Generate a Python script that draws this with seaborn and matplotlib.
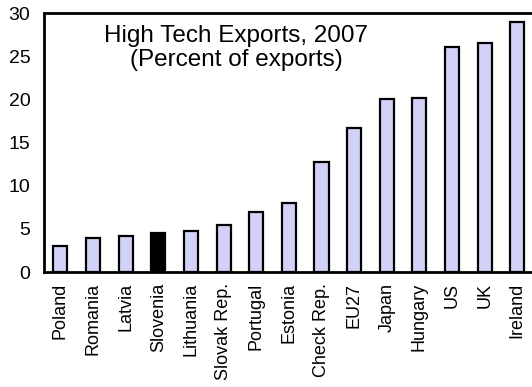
import numpy as np
import pandas as pd
import seaborn as sns
import matplotlib.pyplot as plt

countries = ["Poland", "Romania", "Latvia", "Slovenia", "Lithuania", "Slovak Rep.",
             "Portugal", "Estonia", "Check Rep.", "EU27", "Japan", "Hungary",
             "US", "UK", "Ireland"]
share = [3.0, 3.9, 4.2, 4.5, 4.7, 5.4, 7.0, 8.0, 12.7, 16.7, 20.0, 20.2, 26.1, 26.6, 29.0]
highlight = "Slovenia"

sns.set_style("white")
plt.rcParams['font.family'] = ['Liberation Sans', 'DejaVu Sans']
plt.rcParams['text.color'] = 'black'
plt.rcParams['xtick.color'] = 'black'
plt.rcParams['ytick.color'] = 'black'

df = pd.DataFrame({"country": countries, "share": share})
colors = ["black" if c == highlight else "#ccccff" for c in countries]

fig = plt.figure(figsize=(5.32, 3.87), dpi=100)
ax = fig.add_axes([0.083, 0.297, 0.92, 0.669])

sns.barplot(data=df, x="country", y="share", hue="country", palette=colors,
            width=0.43, edgecolor="black", linewidth=1.6, legend=False, ax=ax)

ax.set_xlim(-0.5, 14.5)
ax.set_ylim(0, 30)
ax.set_yticks(range(0, 31, 5))
ax.set_xlabel("")
ax.set_ylabel("")
ax.tick_params(axis="y", direction="in", length=4, width=1.5, labelsize=14, pad=10)
ax.tick_params(axis="x", which="major", length=0, labelsize=13, rotation=90, pad=8)
ax.set_xticks(np.arange(0.5, 14, 1), minor=True)
ax.tick_params(axis="x", which="minor", direction="in", length=4, width=1.5)

for side in ["left", "bottom", "top"]:
    ax.spines[side].set_linewidth(2)
    ax.spines[side].set_color("black")
ax.spines["right"].set_visible(False)

ax.text(0.392, 0.955, "High Tech Exports, 2007\n(Percent of exports)",
        transform=ax.transAxes, ha="center", va="top", fontsize=17.5, linespacing=1.1)

fig.savefig("out.png", dpi=100)
